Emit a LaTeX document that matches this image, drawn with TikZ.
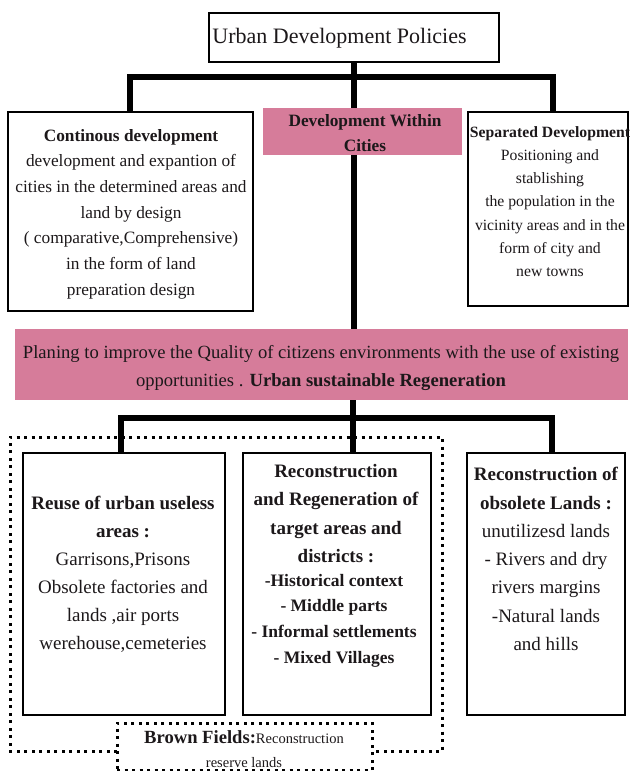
\documentclass[tikz,border=0pt]{standalone}
\usepackage{fontspec}
\setmainfont{LiberationSerif}[Extension=.ttf, UprightFont=*-Regular, BoldFont=*-Bold, ItalicFont=*-Italic, BoldItalicFont=*-BoldItalic]
\definecolor{pinkfill}{RGB}{214,124,154}
\definecolor{inkc}{RGB}{28,24,26}
\begin{document}
\begin{tikzpicture}[x=1pt,y=-1pt,
  box/.style={draw=black, line width=2.6pt, fill=white, inner sep=0pt, outer sep=0pt},
  pinkbox/.style={fill=pinkfill, draw=none, inner sep=0pt, outer sep=0pt},
  dotbox/.style={draw=black, line width=3pt, dash pattern=on 3pt off 4.5pt, inner sep=0pt, outer sep=0pt},
  dotline/.style={draw=black, line width=3pt, dash pattern=on 3pt off 4.5pt},
  bar/.style={draw=black, line width=5.5pt, line join=miter},
  txt/.style={align=center, text=inkc, inner sep=0pt}]
\useasboundingbox (0,0) rectangle (630,771);

% named junction coordinates
\coordinate (b1L) at (130,77);
\coordinate (b1R) at (553,77);
\coordinate (b2L) at (121,418);
\coordinate (b2R) at (552,418);
\coordinate (c2) at (353,418);
\coordinate (d1) at (117,751);
\coordinate (d2) at (10,751);
\coordinate (d3) at (10,437);
\coordinate (d4) at (442,437);
\coordinate (d5) at (442,751);
\coordinate (d6) at (372,751);

% dotted outline (drawn first)
\draw[dotline] (d1) -- (d2) -- (d3) -- (d4) -- (d5) -- (d6);

% box shapes (positions only, drawn later on top of connectors)
\path (354,37.5) node[box, draw=none, fill=none, minimum width=290pt, minimum height=49pt] (top) {};
\path (130.5,211.5) node[box, draw=none, fill=none, minimum width=245pt, minimum height=199pt] (left) {};
\path (362.5,131.5) node[pinkbox, fill=none, minimum width=199pt, minimum height=47pt] (within) {};
\path (548,209) node[box, draw=none, fill=none, minimum width=160pt, minimum height=194pt] (right) {};
\path (321.5,364.5) node[pinkbox, fill=none, minimum width=613pt, minimum height=71pt] (band) {};
\path (124,584) node[box, draw=none, fill=none, minimum width=202pt, minimum height=262pt] (boxA) {};
\path (337,584) node[box, draw=none, fill=none, minimum width=188pt, minimum height=262pt] (boxB) {};
\path (546,584) node[box, draw=none, fill=none, minimum width=158pt, minimum height=262pt] (boxC) {};

% connectors
\draw[bar] (top.south) -- (band.north -| top.south);
\draw[bar] (left.north -| b1L) -- (b1L) -- (b1R) -- (right.north -| b1R);
\draw[bar] (band.south -| c2) -- (boxB.north -| c2);
\draw[bar] (boxA.north -| b2L) -- (b2L) -- (b2R) -- (boxC.north -| b2R);

% boxes drawn on top
\node[box, minimum width=290pt, minimum height=49pt] at (top) {};
\node[box, minimum width=245pt, minimum height=199pt] at (left) {};
\node[pinkbox, minimum width=199pt, minimum height=47pt] at (within) {};
\node[box, minimum width=160pt, minimum height=194pt] at (right) {};
\node[pinkbox, minimum width=613pt, minimum height=71pt] at (band) {};
\node[box, minimum width=202pt, minimum height=262pt] at (boxA) {};
\node[box, minimum width=188pt, minimum height=262pt] at (boxB) {};
\node[box, minimum width=158pt, minimum height=262pt] at (boxC) {};
\node[dotbox, minimum width=255pt, minimum height=47pt] (brown) at (244.5,746.5) {};

% texts
\node[txt, font=\fontsize{22}{26}\selectfont] (topT) at (339.5,38) {Urban Development Policies};
\node[txt, font=\fontsize{17.3}{25.7}\selectfont] (leftT) at (131,214) {\textbf{Continous development}\\development and expantion of\\cities in the determined areas and\\land by design\\( comparative,Comprehensive)\\in the form of land\\preparation design};
\node[txt, font=\fontsize{17.3}{25}\selectfont\bfseries] (withinT) at (365,133) {Development Within\\Cities};
\node[txt, font=\fontsize{15.7}{23.2}\selectfont] (rightT) at (550,201.5) {\textbf{Separated Development}\\Positioning and\\stablishing\\the population in the\\vicinity areas and in the\\form of city and\\new towns};
\node[txt, font=\fontsize{18.6}{28}\selectfont] (bandT) at (321,368) {Planing to improve the Quality of citizens environments with the use of existing\\opportunities . \textbf{Urban sustainable Regeneration}};
\node[txt, font=\fontsize{19}{28}\selectfont] (boxAT) at (123,574) {\textbf{Reuse of urban useless}\\\textbf{areas :}\\Garrisons,Prisons\\Obsolete factories and\\lands ,air ports\\werehouse,cemeteries};
\node[txt, font=\fontsize{19}{28.3}\selectfont\bfseries] (boxBH) at (336,513.5) {Reconstruction\\and Regeneration of\\target areas and\\districts :};
\node[txt, font=\fontsize{17.5}{25.7}\selectfont\bfseries] (boxBL) at (334,620.5) {-Historical context\\- Middle parts\\- Informal settlements\\- Mixed Villages};
\node[txt, font=\fontsize{19}{28.3}\selectfont] (boxCT) at (546,559) {\textbf{Reconstruction of}\\\textbf{obsolete Lands :}\\unutilizesd lands\\- Rivers and dry\\rivers margins\\-Natural lands\\and hills};
\node[txt, font=\fontsize{14.5}{24}\selectfont] (brownT) at (244,749) {{\fontsize{18.6}{24}\selectfont\textbf{Brown Fields:}}Reconstruction\\reserve lands};
\end{tikzpicture}
\end{document}
